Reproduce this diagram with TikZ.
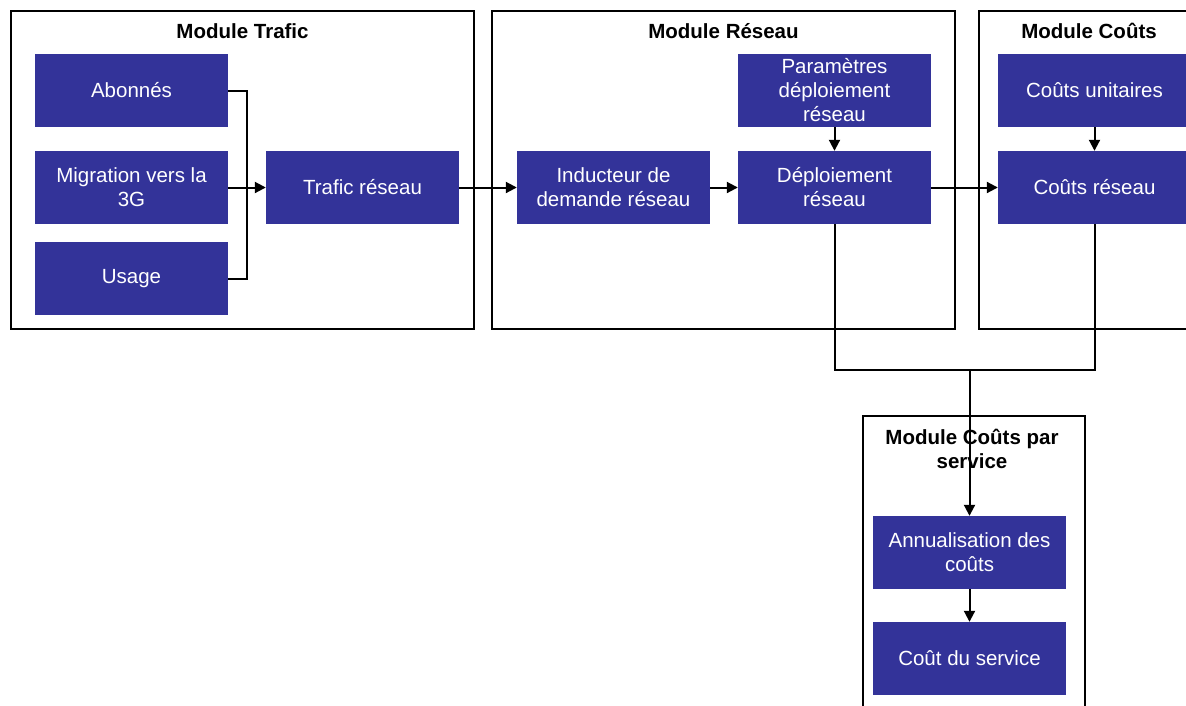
\documentclass[tikz,border=0pt]{standalone}
\usepackage{fontspec}
\setmainfont{Liberation Sans}
\usetikzlibrary{arrows.meta}
\definecolor{boxblue}{HTML}{333399}
\tikzset{
  blk/.style={fill=boxblue, draw=none, minimum width=193pt, minimum height=73pt,
    text=white, align=center, inner sep=0pt, font=\fontsize{20.5}{24}\selectfont},
  frame/.style={draw=black, line width=1.6pt, fill=white},
  ttl/.style={font=\fontsize{20.5}{24}\selectfont\bfseries, align=center, inner sep=0pt},
  conn/.style={line width=2pt, draw=black},
  arr/.style={conn, -{Triangle[length=11pt,width=11pt]}}
}
\begin{document}
\begin{tikzpicture}[x=1pt,y=-1pt]
\useasboundingbox (0,0) rectangle (1186,705);
\clip (0,0) rectangle (1186,705);
\fill[white] (0,0) rectangle (1186,705);
% frames
\draw[frame] (11,11) rectangle (474,329);
\draw[frame] (492,11) rectangle (955,329);
\draw[frame] (979,11) rectangle (1200,329);
\draw[frame] (863,416) rectangle (1085,720);
% titles
\node[ttl] (t1) at (242.5,31) {Module Trafic};
\node[ttl] (t2) at (723.5,31) {Module Réseau};
\node[ttl] (t3) at (1089,31) {Module Coûts};
\node[ttl] (t4) at (972,449) {Module Coûts par\\service};
% boxes
\node[blk] (abon) at (131.5,90.5) {Abonnés};
\node[blk] (mig) at (131.5,187.5) {Migration vers la\\3G};
\node[blk] (usage) at (131.5,278.5) {Usage};
\node[blk] (traf) at (362.5,187.5) {Trafic réseau};
\node[blk] (induc) at (613.5,187.5) {Inducteur de\\demande réseau};
\node[blk] (param) at (834.5,90.5) {Paramètres\\déploiement\\réseau};
\node[blk] (depl) at (834.5,187.5) {Déploiement\\réseau};
\node[blk] (cu) at (1094.5,90.5) {Coûts unitaires};
\node[blk] (cr) at (1094.5,187.5) {Coûts réseau};
\node[blk] (ann) at (969.5,552.5) {Annualisation des\\coûts};
\node[blk] (cs) at (969.5,658.5) {Coût du service};
% connectors
\coordinate (j) at (247,187.5);
\coordinate (m) at (969.5,370);
\draw[conn] (abon.east) -| (j);
\draw[conn] (usage.east) -| (j);
\draw[arr] (mig.east) -- (traf.west);
\draw[arr] (traf.east) -- (induc.west);
\draw[arr] (induc.east) -- (depl.west);
\draw[arr] (param.south) -- (depl.north);
\draw[arr] (depl.east) -- (cr.west);
\draw[arr] (cu.south) -- (cr.north);
\draw[conn] (depl.south) |- (m);
\draw[conn] (cr.south) |- (m);
\draw[arr] (m) -- (ann.north);
\draw[arr] (ann.south) -- (cs.north);
\end{tikzpicture}
\end{document}
